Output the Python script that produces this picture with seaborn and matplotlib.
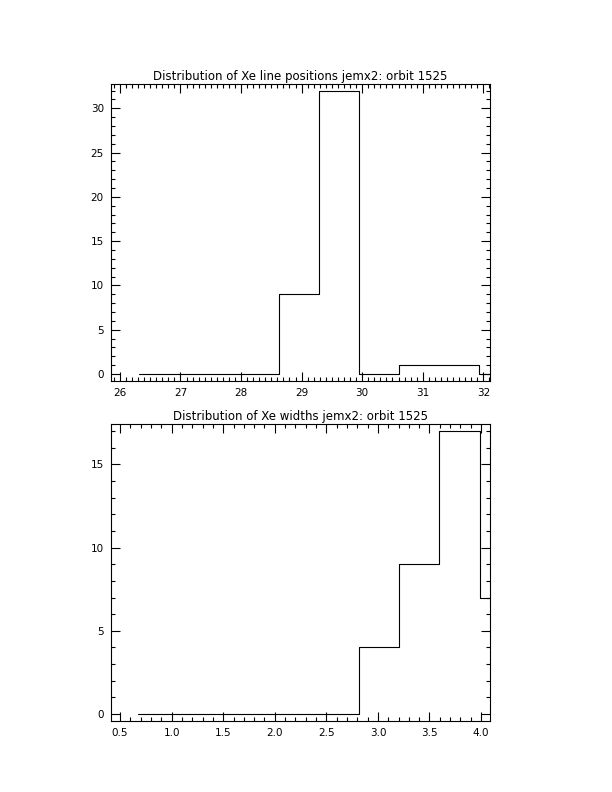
import numpy as np
import pandas as pd
import matplotlib
matplotlib.use("Agg")
import matplotlib.pyplot as plt
import seaborn as sns
from matplotlib.ticker import MultipleLocator, FormatStrFormatter

# line positions histogram (bin centres, counts)
pos_centers = [26.31, 26.97, 27.63, 28.29, 28.95, 29.61, 30.27, 30.93, 31.59, 32.25]
pos_counts = [0, 0, 0, 0, 9, 32, 0, 1, 1, 0]

# widths histogram
wid_centers = [0.67, 1.06, 1.45, 1.84, 2.23, 2.62, 3.01, 3.40, 3.79, 4.18]
wid_counts = [0, 0, 0, 0, 0, 0, 4, 9, 17, 7]

title_pos = "Distribution of Xe line positions jemx2: orbit 1525"
title_wid = "Distribution of Xe widths jemx2: orbit 1525"

sns.set_style("ticks")
plt.rcParams['font.family'] = ['DejaVu Sans']
plt.rcParams['text.color'] = 'black'
plt.rcParams['xtick.color'] = 'black'
plt.rcParams['ytick.color'] = 'black'

fig = plt.figure(figsize=(6.12, 7.92), dpi=100)
ax1 = fig.add_axes([0.181, 0.519, 0.6197, 0.375])
ax2 = fig.add_axes([0.181, 0.0896, 0.6197, 0.375])

df1 = pd.DataFrame({"x": pos_centers, "n": pos_counts})
df2 = pd.DataFrame({"x": wid_centers, "n": wid_counts})

sns.lineplot(data=df1, x="x", y="n", ax=ax1, drawstyle="steps-mid",
             color="black", linewidth=0.8, sort=False)
sns.lineplot(data=df2, x="x", y="n", ax=ax2, drawstyle="steps-mid",
             color="black", linewidth=0.8, sort=False)

ax1.set_xlim(25.85, 32.11)
ax1.set_ylim(-0.79, 32.74)
ax1.xaxis.set_major_locator(MultipleLocator(1))
ax1.xaxis.set_minor_locator(MultipleLocator(0.1))
ax1.yaxis.set_major_locator(MultipleLocator(5))
ax1.yaxis.set_minor_locator(MultipleLocator(1))

ax2.set_xlim(0.41, 4.087)
ax2.set_ylim(-0.42, 17.42)
ax2.xaxis.set_major_locator(MultipleLocator(0.5))
ax2.xaxis.set_minor_locator(MultipleLocator(0.1))
ax2.xaxis.set_major_formatter(FormatStrFormatter("%.1f"))
ax2.yaxis.set_major_locator(MultipleLocator(5))
ax2.yaxis.set_minor_locator(MultipleLocator(1))

for ax, t in [(ax1, title_pos), (ax2, title_wid)]:
    ax.set_title(t, fontsize=8.5, pad=3, color="black")
    ax.set_xlabel("")
    ax.set_ylabel("")
    ax.tick_params(which="both", direction="in", top=True, right=True,
                   color="black", labelcolor="black", width=0.8,
                   labelsize=7.5, pad=5)
    ax.tick_params(which="major", length=6.5)
    ax.tick_params(which="minor", length=3.2)
    for s in ax.spines.values():
        s.set_visible(True)
        s.set_linewidth(0.8)
        s.set_color("black")

plt.savefig("out.png", dpi=100)
